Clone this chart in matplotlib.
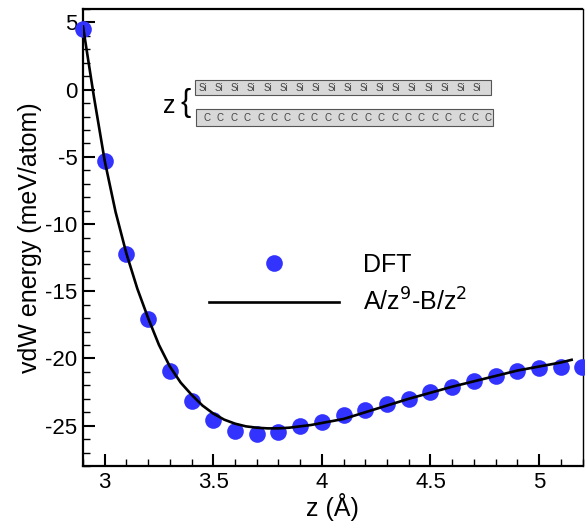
import matplotlib
matplotlib.use('Agg')
import matplotlib.pyplot as plt
from matplotlib.patches import Rectangle
from matplotlib.ticker import MultipleLocator

plt.rcParams['font.family'] = ['Liberation Sans', 'DejaVu Sans']
plt.rcParams['axes.unicode_minus'] = False

# DFT points (z in Angstrom, energy in meV/atom)
z_dft = [2.9, 3.0, 3.1, 3.2, 3.3, 3.4, 3.5, 3.6, 3.7, 3.8, 3.9, 4.0,
         4.1, 4.2, 4.3, 4.4, 4.5, 4.6, 4.7, 4.8, 4.9, 5.0, 5.1, 5.2]
e_dft = [4.5, -5.3, -12.2, -17.05, -20.9, -23.2, -24.6, -25.4, -25.6, -25.45, -25.0, -24.7,
         -24.2, -23.8, -23.4, -23.0, -22.5, -22.1, -21.7, -21.3, -20.9, -20.7, -20.6, -20.6]

# fitted curve A/z^9 - B/z^2
z_fit = [2.9, 2.95, 3.0, 3.05, 3.1, 3.15, 3.2, 3.25, 3.3, 3.35, 3.4, 3.45, 3.5, 3.55,
         3.6, 3.65, 3.7, 3.75, 3.8, 3.85, 3.9, 3.95, 4.0, 4.1, 4.2, 4.3, 4.4, 4.5,
         4.6, 4.7, 4.8, 4.9, 5.0, 5.1, 5.15]
e_fit = [4.7, -0.5, -5.3, -9.1, -12.2, -14.8, -17.0, -19.0, -20.6, -21.8, -22.7, -23.5, -24.1, -24.55,
         -24.85, -25.05, -25.15, -25.2, -25.2, -25.15, -25.05, -24.95, -24.8, -24.5, -24.0, -23.5, -23.0, -22.55,
         -22.1, -21.7, -21.3, -20.9, -20.6, -20.3, -20.1]

xticks = [3, 3.5, 4, 4.5, 5]
xtick_labels = ['3', '3.5', '4', '4.5', '5']
yticks = [-25, -20, -15, -10, -5, 0, 5]
ytick_labels = ['-25', '-20', '-15', '-10', '-5', '0', '5']

n_si = 18
n_c = 22

W, H = 585, 522
fig = plt.figure(figsize=(W / 100, H / 100), dpi=100)
ax = fig.add_axes([83 / W, 1 - 466 / H, 499.5 / W, 457 / H])

ax.plot(z_dft, e_dft, 'o', color='#3333ff', markersize=12, markeredgewidth=0,
        label='DFT', clip_on=False, zorder=3)
ax.plot(z_fit, e_fit, '-', color='black', linewidth=1.9, label='A/z$^9$-B/z$^2$', zorder=4)

ax.set_xlim(2.9, 5.2)
ax.set_ylim(-28, 6)
ax.set_xticks(xticks)
ax.set_xticklabels(xtick_labels)
ax.set_yticks(yticks)
ax.set_yticklabels(ytick_labels)
ax.xaxis.set_minor_locator(MultipleLocator(0.1))
ax.yaxis.set_minor_locator(MultipleLocator(1))
ax.tick_params(which='both', direction='in', top=False, right=False, labelsize=16)
ax.tick_params(which='major', length=8.5, width=1.5, pad=4)
ax.tick_params(which='minor', length=5, width=1)
for side in ['left', 'bottom', 'top']:
    ax.spines[side].set_linewidth(1.6)
ax.spines['right'].set_linewidth(1.0)

ax.set_xlabel('z (Å)', fontsize=18, labelpad=0)
ax.set_ylabel('vdW energy (meV/atom)', fontsize=18, labelpad=2)

ax.legend(loc='center left', bbox_to_anchor=(0.207, 0.398), frameon=False, fontsize=18,
          handlelength=5.2, handletextpad=0.95, labelspacing=0.45, numpoints=1)

# inset schematic of the two layers, in pixel coordinates
ins = fig.add_axes([155 / W, 1 - 130 / H, 345 / W, 55 / H])
ins.set_xlim(155, 500)
ins.set_ylim(130, 75)
ins.axis('off')
ins.add_patch(Rectangle((194.5, 80), 296, 15, facecolor='#d8d8d8', edgecolor='#555555', linewidth=0.8))
ins.add_patch(Rectangle((196, 109), 296.5, 17, facecolor='#d8d8d8', edgecolor='#555555', linewidth=0.8))
for i in range(n_si):
    ins.text(203 + i * 16.1, 88, 'Si', fontsize=7, color='#444444', ha='center', va='center')
for i in range(n_c):
    ins.text(207 + i * 13.4, 118, 'C', fontsize=7, color='#444444', ha='center', va='center')
ins.text(169, 106, 'z', fontsize=18, ha='center', va='center')
ins.text(186, 103, '{', fontsize=22, ha='center', va='center')

fig.savefig('out.png', dpi=100)
